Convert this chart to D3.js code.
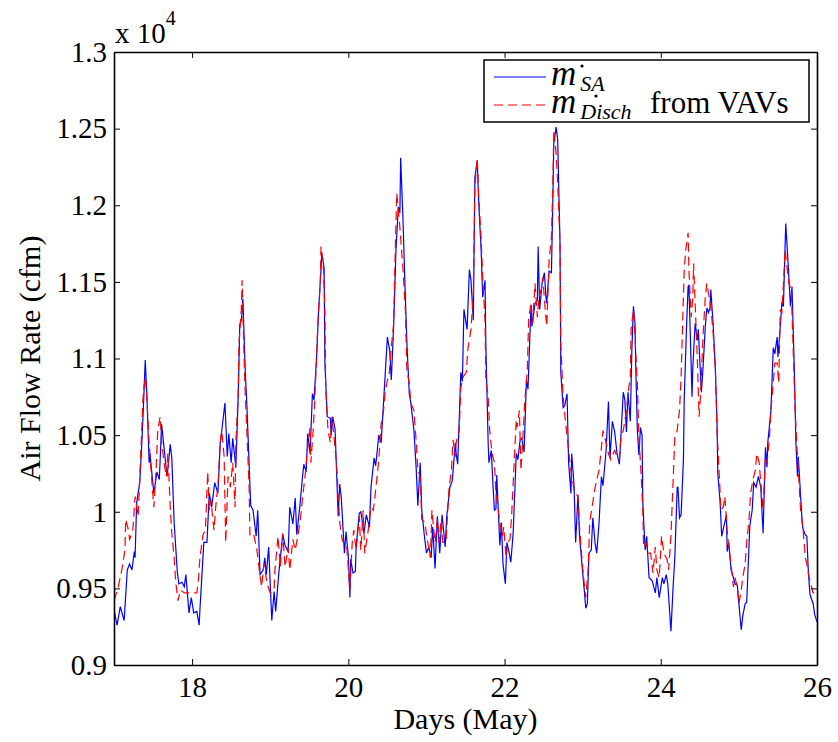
<!DOCTYPE html>
<html>
<head>
<meta charset="utf-8">
<script src="https://cdn.jsdelivr.net/npm/d3@7"></script>
<style>
  body { margin: 0; background: #fff; }
</style>
</head>
<body>
<div id="chart"></div>
<script>
// data: air flow in units of 1e4 cfm, time in days of May
const saDays = [17.00,17.04,17.08,17.13,17.17,17.20,17.23,17.26,17.27,17.29,17.33,17.36,17.38,17.40,17.42,17.45,17.46,17.51,17.55,17.58,17.61,17.64,17.68,17.72,17.74,17.77,17.81,17.83,17.87,17.90,17.92,17.96,17.99,18.02,18.06,18.09,18.10,18.15,18.19,18.22,18.25,18.29,18.33,18.36,18.38,18.42,18.45,18.47,18.50,18.52,18.56,18.59,18.61,18.63,18.65,18.68,18.70,18.75,18.78,18.82,18.84,18.87,18.91,18.93,18.95,18.98,19.02,19.05,19.07,19.11,19.16,19.19,19.23,19.25,19.29,19.32,19.34,19.38,19.41,19.43,19.46,19.48,19.51,19.54,19.56,19.59,19.62,19.65,19.66,19.69,19.70,19.73,19.77,19.78,19.80,19.83,19.84,19.87,19.89,19.91,19.95,19.97,20.00,20.02,20.03,20.06,20.09,20.10,20.14,20.16,20.20,20.23,20.27,20.29,20.33,20.35,20.39,20.42,20.44,20.47,20.50,20.53,20.55,20.58,20.61,20.64,20.66,20.67,20.70,20.73,20.75,20.78,20.80,20.84,20.87,20.89,20.92,20.94,20.97,21.00,21.03,21.06,21.08,21.11,21.14,21.17,21.20,21.24,21.26,21.30,21.33,21.37,21.38,21.40,21.44,21.46,21.48,21.52,21.55,21.57,21.60,21.62,21.65,21.67,21.70,21.72,21.75,21.76,21.79,21.80,21.83,21.85,21.87,21.89,21.90,21.94,21.96,21.98,22.01,22.03,22.06,22.08,22.11,22.15,22.17,22.20,22.22,22.25,22.28,22.30,22.33,22.34,22.35,22.39,22.42,22.43,22.45,22.48,22.51,22.53,22.54,22.57,22.60,22.62,22.63,22.66,22.68,22.71,22.72,22.75,22.77,22.80,22.82,22.85,22.86,22.89,22.91,22.94,22.96,22.99,23.02,23.04,23.06,23.08,23.11,23.13,23.16,23.18,23.21,23.24,23.26,23.30,23.33,23.35,23.38,23.41,23.44,23.47,23.49,23.52,23.54,23.56,23.58,23.61,23.63,23.65,23.67,23.68,23.70,23.72,23.74,23.76,23.77,23.80,23.82,23.85,23.89,23.93,23.95,23.98,24.02,24.04,24.07,24.09,24.13,24.16,24.18,24.21,24.22,24.24,24.26,24.29,24.30,24.33,24.35,24.36,24.40,24.41,24.44,24.47,24.48,24.52,24.54,24.57,24.59,24.61,24.63,24.64,24.67,24.70,24.72,24.73,24.76,24.78,24.81,24.84,24.85,24.87,24.90,24.93,24.95,24.98,25.00,25.03,25.05,25.08,25.10,25.14,25.17,25.19,25.22,25.25,25.28,25.31,25.34,25.36,25.37,25.41,25.44,25.46,25.49,25.50,25.53,25.55,25.57,25.59,25.60,25.63,25.66,25.68,25.71,25.73,25.75,25.76,25.78,25.81,25.82,25.85,25.87,25.89,25.91,25.95,25.97,26.00];
const saFlow = [0.936,0.926,0.938,0.929,0.962,0.966,0.962,0.974,0.970,1.006,1.019,1.049,1.073,1.099,1.077,1.032,1.038,1.012,1.026,1.021,1.057,1.042,1.023,1.044,1.035,0.993,0.961,0.953,0.954,0.951,0.959,0.934,0.944,0.934,0.935,0.926,0.936,0.980,0.980,1.012,1.003,1.019,1.012,1.045,1.053,1.071,1.036,1.051,1.032,1.048,1.029,1.075,1.122,1.125,1.139,1.092,1.071,1.004,1.001,0.984,1.001,0.959,0.962,0.970,0.959,0.977,0.929,0.948,0.935,0.960,0.985,0.978,0.974,1.003,0.992,1.009,0.985,1.004,1.021,1.031,1.026,1.051,1.038,1.077,1.073,1.097,1.132,1.158,1.169,1.159,1.097,1.062,1.061,1.050,1.062,1.054,1.040,0.997,1.018,1.009,0.973,0.987,0.971,0.944,0.969,0.960,0.961,0.977,0.999,1.000,0.986,0.998,0.990,1.016,1.035,1.030,1.050,1.045,1.062,1.088,1.114,1.105,1.086,1.121,1.171,1.199,1.195,1.231,1.190,1.140,1.110,1.077,1.071,1.053,1.027,1.004,1.032,1.001,0.986,0.973,0.977,0.970,0.990,0.963,0.997,0.973,0.998,0.977,0.997,1.016,1.020,1.045,1.038,1.031,1.091,1.085,1.132,1.119,1.158,1.151,1.125,1.218,1.229,1.201,1.171,1.140,1.151,1.110,1.045,1.032,1.040,1.019,1.001,1.002,1.024,0.978,0.993,0.966,0.953,0.980,0.973,0.967,0.986,1.038,1.034,1.047,1.048,1.039,1.086,1.080,1.123,1.135,1.121,1.136,1.138,1.173,1.132,1.149,1.156,1.140,1.136,1.157,1.156,1.208,1.240,1.251,1.243,1.175,1.091,1.068,1.069,1.077,1.032,1.012,1.038,1.017,0.980,1.011,0.984,0.966,0.949,0.937,0.940,0.973,0.975,0.996,0.979,0.973,0.993,1.023,1.017,1.040,1.072,1.035,1.059,1.052,1.038,1.031,1.050,1.078,1.073,1.052,1.078,1.059,1.106,1.134,1.123,1.094,1.053,1.037,1.055,1.050,1.006,0.975,0.984,0.957,0.955,0.947,0.957,0.944,0.957,0.953,0.959,0.953,0.922,0.953,0.970,1.016,1.016,0.996,0.998,1.034,1.073,1.121,1.147,1.148,1.075,1.094,1.123,1.112,1.119,1.078,1.093,1.121,1.133,1.130,1.133,1.145,1.123,1.091,1.058,1.025,1.006,0.984,0.991,0.998,0.974,0.980,0.962,0.957,0.953,0.952,0.940,0.923,0.932,0.940,0.941,0.991,1.001,1.019,1.016,1.023,1.016,0.986,1.042,1.029,1.045,1.066,1.107,1.103,1.114,1.101,1.121,1.136,1.134,1.171,1.188,1.162,1.134,1.147,1.092,1.045,1.023,1.036,1.019,0.993,0.989,0.985,0.984,0.960,0.946,0.940,0.933,0.928];

const vavDays = [17.00,17.05,17.10,17.14,17.15,17.18,17.20,17.24,17.27,17.31,17.33,17.35,17.37,17.38,17.40,17.42,17.45,17.49,17.51,17.54,17.56,17.59,17.61,17.64,17.67,17.69,17.72,17.74,17.77,17.79,17.82,17.85,17.90,18.06,18.08,18.10,18.14,18.17,18.20,18.22,18.24,18.28,18.31,18.33,18.36,18.38,18.41,18.43,18.46,18.49,18.52,18.55,18.56,18.59,18.60,18.63,18.64,18.66,18.68,18.70,18.73,18.74,18.79,18.83,18.86,18.89,18.92,18.96,19.00,19.05,19.06,19.10,19.13,19.16,19.19,19.23,19.25,19.29,19.32,19.36,19.39,19.42,19.45,19.47,19.51,19.52,19.55,19.57,19.59,19.61,19.64,19.65,19.68,19.70,19.71,19.74,19.77,19.79,19.83,19.86,19.87,19.89,19.92,19.96,19.98,20.02,20.05,20.07,20.10,20.14,20.16,20.19,20.21,20.25,20.29,20.32,20.35,20.39,20.42,20.44,20.47,20.50,20.52,20.55,20.58,20.60,20.62,20.65,20.67,20.70,20.73,20.75,20.78,20.80,20.84,20.87,20.89,20.92,20.94,20.98,21.01,21.05,21.07,21.11,21.14,21.16,21.19,21.21,21.25,21.29,21.32,21.34,21.37,21.38,21.42,21.44,21.47,21.51,21.53,21.57,21.60,21.62,21.65,21.67,21.70,21.72,21.75,21.76,21.79,21.81,21.84,21.87,21.89,21.92,21.94,21.97,21.99,22.02,22.04,22.07,22.09,22.12,22.15,22.16,22.19,22.21,22.24,22.26,22.29,22.31,22.34,22.36,22.39,22.42,22.44,22.47,22.49,22.52,22.54,22.57,22.60,22.62,22.63,22.66,22.68,22.71,22.72,22.75,22.77,22.80,22.82,22.85,22.89,22.91,22.94,22.96,22.99,23.02,23.04,23.07,23.09,23.12,23.16,23.18,23.21,23.24,23.26,23.30,23.33,23.36,23.39,23.41,23.44,23.47,23.49,23.52,23.56,23.58,23.61,23.62,23.65,23.67,23.70,23.72,23.75,23.77,23.78,23.81,23.84,23.87,23.90,23.93,23.95,23.98,24.01,24.04,24.08,24.10,24.13,24.16,24.18,24.21,24.22,24.24,24.26,24.28,24.30,24.32,24.35,24.36,24.39,24.41,24.42,24.45,24.47,24.49,24.51,24.54,24.57,24.59,24.62,24.64,24.67,24.70,24.72,24.75,24.77,24.80,24.82,24.85,24.87,24.90,24.93,24.95,24.98,25.00,25.03,25.05,25.08,25.10,25.13,25.15,25.18,25.21,25.23,25.26,25.28,25.31,25.34,25.36,25.39,25.41,25.44,25.46,25.49,25.51,25.53,25.55,25.58,25.59,25.62,25.64,25.67,25.69,25.72,25.74,25.77,25.79,25.82,25.85,25.87,25.90,25.92,25.95,26.00];
const vavFlow = [0.942,0.950,0.962,0.975,0.995,0.989,0.982,0.987,1.010,0.997,1.023,1.047,1.073,1.080,1.088,1.075,1.045,1.016,1.003,1.029,1.053,1.062,1.045,1.032,1.023,1.038,1.003,0.986,0.970,0.954,0.942,0.949,0.947,0.947,0.955,0.970,0.985,0.988,1.026,1.001,1.008,0.988,1.008,1.016,1.045,1.053,1.036,0.980,1.023,1.016,1.032,1.003,1.045,1.077,1.110,1.132,1.151,1.110,1.077,1.053,1.016,0.984,0.985,0.975,0.962,0.951,0.966,0.953,0.947,0.949,0.962,0.984,0.964,0.986,0.964,0.977,0.962,0.982,0.975,0.986,0.997,1.012,1.025,1.038,1.055,1.032,1.053,1.073,1.097,1.123,1.149,1.173,1.160,1.132,1.081,1.053,1.045,1.062,1.042,1.023,1.010,0.993,0.982,0.977,0.977,0.949,0.980,0.988,0.975,0.997,0.975,1.001,0.973,0.986,1.003,1.001,1.014,1.034,1.058,1.060,1.077,1.086,1.088,1.107,1.123,1.169,1.208,1.192,1.179,1.158,1.132,1.092,1.084,1.071,1.066,1.045,1.027,1.023,0.995,0.993,0.982,0.970,1.001,0.980,0.995,0.980,0.995,0.980,0.980,1.016,1.027,1.047,1.036,1.045,1.053,1.081,1.088,1.091,1.106,1.119,1.143,1.212,1.231,1.205,1.179,1.153,1.125,1.088,1.075,1.053,1.038,1.032,1.012,1.001,0.993,0.984,0.990,0.970,0.980,0.982,0.997,1.029,1.060,1.055,1.066,1.027,1.053,1.073,1.091,1.127,1.136,1.123,1.149,1.127,1.140,1.145,1.153,1.132,1.121,1.164,1.179,1.218,1.249,1.234,1.215,1.175,1.110,1.075,1.064,1.049,1.040,1.027,1.014,1.012,1.010,0.990,0.970,0.953,0.944,0.962,0.993,1.003,1.016,1.021,1.027,1.042,1.053,1.045,1.038,1.034,1.038,1.040,1.036,1.034,1.049,1.053,1.066,1.077,1.088,1.119,1.132,1.114,1.084,1.049,1.023,1.001,0.977,0.980,0.973,0.973,0.960,0.977,0.962,0.957,0.984,0.973,0.969,0.962,0.984,1.023,1.049,1.053,1.058,1.066,1.088,1.123,1.158,1.171,1.182,1.158,1.127,1.140,1.162,1.123,1.097,1.062,1.077,1.114,1.140,1.149,1.140,1.134,1.117,1.092,1.053,1.023,1.001,1.003,1.010,0.988,0.977,0.966,0.951,0.957,0.951,0.940,0.949,0.957,0.966,0.980,0.995,1.012,1.021,1.027,1.038,1.032,1.019,1.001,1.036,1.032,1.047,1.066,1.084,1.097,1.097,1.084,1.132,1.130,1.158,1.171,1.158,1.149,1.145,1.114,1.066,1.045,1.019,1.001,0.990,0.970,0.966,0.957,0.953,0.947,0.947];

const xTicks = [18, 20, 22, 24, 26];
const yTicks = [0.9, 0.95, 1, 1.05, 1.1, 1.15, 1.2, 1.25, 1.3];

const W = 838, H = 742;
const margin = { top: 52, right: 21, bottom: 77, left: 114 };
const width = W - margin.left - margin.right;
const height = H - margin.top - margin.bottom;
const serif = "'Liberation Serif', 'Times New Roman', serif";

const svg = d3.select("#chart").append("svg")
    .attr("width", W)
    .attr("height", H);

const g = svg.append("g")
    .attr("transform", `translate(${margin.left},${margin.top})`);

const x = d3.scaleLinear().domain([17, 26]).range([0, width]);
const y = d3.scaleLinear().domain([0.9, 1.3]).range([height, 0]);

g.append("clipPath").attr("id", "clip")
  .append("rect").attr("width", width).attr("height", height);

const line = d3.line()
    .x(d => x(d[0]))
    .y(d => y(d[1]));

const sa = saDays.map((d, i) => [d, saFlow[i]]);
const vav = vavDays.map((d, i) => [d, vavFlow[i]]);

g.append("path")
    .datum(sa)
    .attr("clip-path", "url(#clip)")
    .attr("fill", "none")
    .attr("stroke", "#0000ff")
    .attr("stroke-width", 1.2)
    .attr("d", line);

g.append("path")
    .datum(vav)
    .attr("clip-path", "url(#clip)")
    .attr("fill", "none")
    .attr("stroke", "#ff0000")
    .attr("stroke-width", 1.2)
    .attr("stroke-dasharray", "9,5")
    .attr("d", line);

// axes, ticks pointing inward (matlab box)
const fmt = d => String(+d.toFixed(2));
const styleAxis = a => {
  a.selectAll("text")
      .style("font-family", serif)
      .style("font-size", "29px")
      .attr("fill", "#000");
  a.selectAll("line").attr("stroke", "#000");
  a.select(".domain").attr("stroke", "#000").attr("stroke-width", 1.6);
};

g.append("g")
    .attr("transform", `translate(0,${height})`)
    .call(d3.axisBottom(x).tickValues(xTicks).tickSizeInner(-6).tickSizeOuter(0).tickPadding(11).tickFormat(d3.format("d")))
    .call(styleAxis);

g.append("g")
    .call(d3.axisLeft(y).tickValues(yTicks).tickSizeInner(-6).tickSizeOuter(0).tickPadding(7).tickFormat(fmt))
    .call(styleAxis);

g.append("g")
    .call(d3.axisTop(x).tickValues(xTicks).tickSizeInner(-6).tickSizeOuter(0).tickFormat(""))
    .call(styleAxis);

g.append("g")
    .attr("transform", `translate(${width},0)`)
    .call(d3.axisRight(y).tickValues(yTicks).tickSizeInner(-6).tickSizeOuter(0).tickFormat(""))
    .call(styleAxis);

// exponent label
const expo = svg.append("text")
    .attr("x", margin.left + 1)
    .attr("y", 43)
    .style("font-family", serif)
    .style("font-size", "29px");
expo.append("tspan").text("x 10");
expo.append("tspan").attr("dy", -18).style("font-size", "20px").text("4");

// axis titles
svg.append("text")
    .attr("x", margin.left + width / 2)
    .attr("y", 729)
    .attr("text-anchor", "middle")
    .style("font-family", serif)
    .style("font-size", "30px")
    .text("Days (May)");

svg.append("text")
    .attr("transform", `translate(40,${margin.top + height / 2}) rotate(-90)`)
    .attr("text-anchor", "middle")
    .style("font-family", serif)
    .style("font-size", "30px")
    .text("Air Flow Rate (cfm)");

// legend
const lg = svg.append("g");
lg.append("rect")
    .attr("x", 484).attr("y", 60)
    .attr("width", 325).attr("height", 62)
    .attr("fill", "#fff")
    .attr("stroke", "#000")
    .attr("stroke-width", 1.5);

lg.append("line")
    .attr("x1", 494).attr("x2", 546).attr("y1", 77).attr("y2", 77)
    .attr("stroke", "#0000ff").attr("stroke-width", 1.2);
lg.append("line")
    .attr("x1", 494).attr("x2", 546).attr("y1", 105).attr("y2", 105)
    .attr("stroke", "#ff0000").attr("stroke-width", 1.2)
    .attr("stroke-dasharray", "9,5");

const legendRows = [
  { sub: "SA", rest: "", y: 85, dot: [582, 66] },
  { sub: "Disch", rest: "from VAVs", y: 113, dot: [596, 96] }
];

legendRows.forEach(r => {
  const t = lg.append("text")
      .attr("x", 551).attr("y", r.y)
      .style("font-family", serif)
      .style("font-style", "italic")
      .style("font-size", "35px");
  t.append("tspan").text("m");
  t.append("tspan")
      .attr("dx", 4).attr("dy", 6)
      .style("font-size", "22px")
      .text(r.sub);
  if (r.rest) {
    lg.append("text")
        .attr("x", 650).attr("y", r.y)
        .style("font-family", serif)
        .style("font-size", "31px")
        .text(r.rest);
  }
  lg.append("circle")
      .attr("cx", r.dot[0]).attr("cy", r.dot[1]).attr("r", 1.6)
      .attr("fill", "#000");
});
</script>
</body>
</html>
